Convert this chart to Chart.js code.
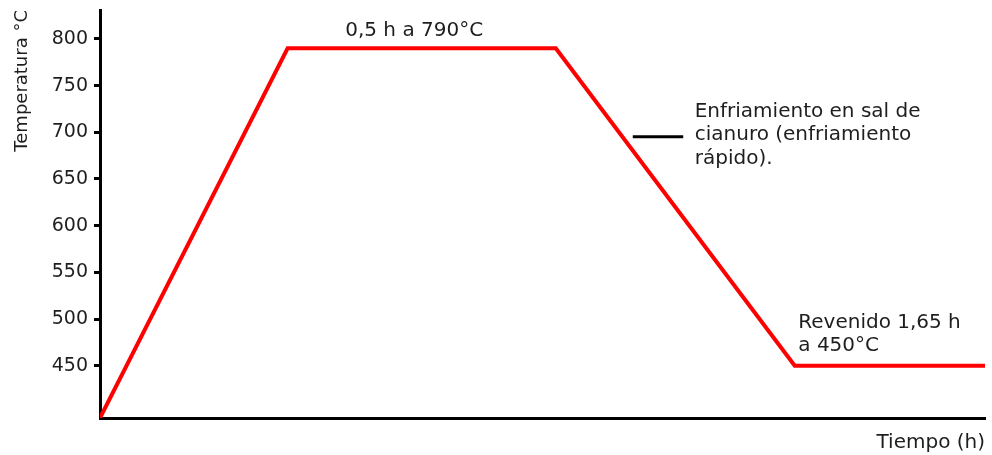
<!DOCTYPE html>
<html>
<head>
<meta charset="utf-8">
<script src="https://cdn.jsdelivr.net/npm/chart.js@4"></script>
<style>
body { margin: 0; background: #fff; }
</style>
</head>
<body>
<canvas id="heatChart" width="992" height="455"></canvas>
<script>
// Treatment cycle: time (h, as drawn) and temperature (°C)
const timePoints = [0, 2.12, 5.15, 7.85, 10];
const tempPoints = [394, 790, 790, 450, 450];
const tempTicks = [450, 500, 550, 600, 650, 700, 750, 800];

const FONT = 'DejaVu Sans';
const INK = '#1e1e1e';

// Text written on the chart, anchored in data units
const notes = [
    { lines: ['0,5 h a 790°C'], x: 3.55, y: 803, align: 'center' },
    { lines: ['Enfriamiento en sal de', 'cianuro (enfriamiento', 'rápido).'], x: 6.72, y: 716.7, align: 'left' },
    { lines: ['Revenido 1,65 h', 'a 450°C'], x: 7.89, y: 490.4, align: 'left' }
];
// short black leader next to the quench note
const leader = { x1: 6.02, x2: 6.59, y: 695.3 };

const notesPlugin = {
    id: 'notes',
    afterDatasetsDraw(chart) {
        const { ctx, scales: { x, y } } = chart;
        ctx.save();
        ctx.fillStyle = INK;
        ctx.font = '20px "' + FONT + '"';
        ctx.textBaseline = 'alphabetic';
        notes.forEach(n => {
            ctx.textAlign = n.align;
            n.lines.forEach((line, i) => {
                ctx.fillText(line, x.getPixelForValue(n.x), y.getPixelForValue(n.y) + i * 23.5);
            });
        });
        ctx.strokeStyle = '#000';
        ctx.lineWidth = 3;
        ctx.beginPath();
        ctx.moveTo(x.getPixelForValue(leader.x1), y.getPixelForValue(leader.y));
        ctx.lineTo(x.getPixelForValue(leader.x2), y.getPixelForValue(leader.y));
        ctx.stroke();
        ctx.restore();
    }
};

const ctx = document.getElementById('heatChart').getContext('2d');
new Chart(ctx, {
    type: 'line',
    data: {
        datasets: [{
            data: timePoints.map((t, i) => ({ x: t, y: tempPoints[i] })),
            borderColor: '#ff0000',
            borderWidth: 4,
            pointRadius: 0,
            tension: 0,
            fill: false
        }]
    },
    options: {
        responsive: false,
        animation: false,
        layout: { padding: { top: 10, right: 7, left: 0, bottom: 0 } },
        plugins: {
            legend: { display: false },
            tooltip: { enabled: false }
        },
        scales: {
            x: {
                type: 'linear',
                min: 0,
                max: 10,
                grid: { display: false },
                border: { display: true, color: '#000', width: 3 },
                ticks: { display: false },
                title: {
                    display: true,
                    text: 'Tiempo (h)',
                    align: 'end',
                    color: INK,
                    font: { family: FONT, size: 20 },
                    padding: { top: 1, bottom: 0 }
                },
                afterFit(scale) {
                    scale.height = 37;
                    scale.paddingLeft = 0;
                    scale.paddingRight = 0;
                }
            },
            y: {
                type: 'linear',
                min: 394,
                max: 831,
                afterBuildTicks(scale) {
                    scale.ticks = tempTicks.map(v => ({ value: v }));
                },
                grid: {
                    drawOnChartArea: false,
                    drawTicks: true,
                    tickLength: 6,
                    tickWidth: 3,
                    tickColor: '#000'
                },
                border: { display: true, color: '#000', width: 3 },
                ticks: {
                    color: INK,
                    padding: 6,
                    font: { family: FONT, size: 19 }
                },
                title: {
                    display: true,
                    text: 'Temperatura °C',
                    align: 'end',
                    color: INK,
                    font: { family: FONT, size: 18 },
                    padding: { top: 12, bottom: 0 }
                },
                afterFit(scale) {
                    scale.width = 100;
                    scale.paddingTop = 0;
                    scale.paddingBottom = 0;
                }
            }
        }
    },
    plugins: [notesPlugin]
});
</script>
</body>
</html>
